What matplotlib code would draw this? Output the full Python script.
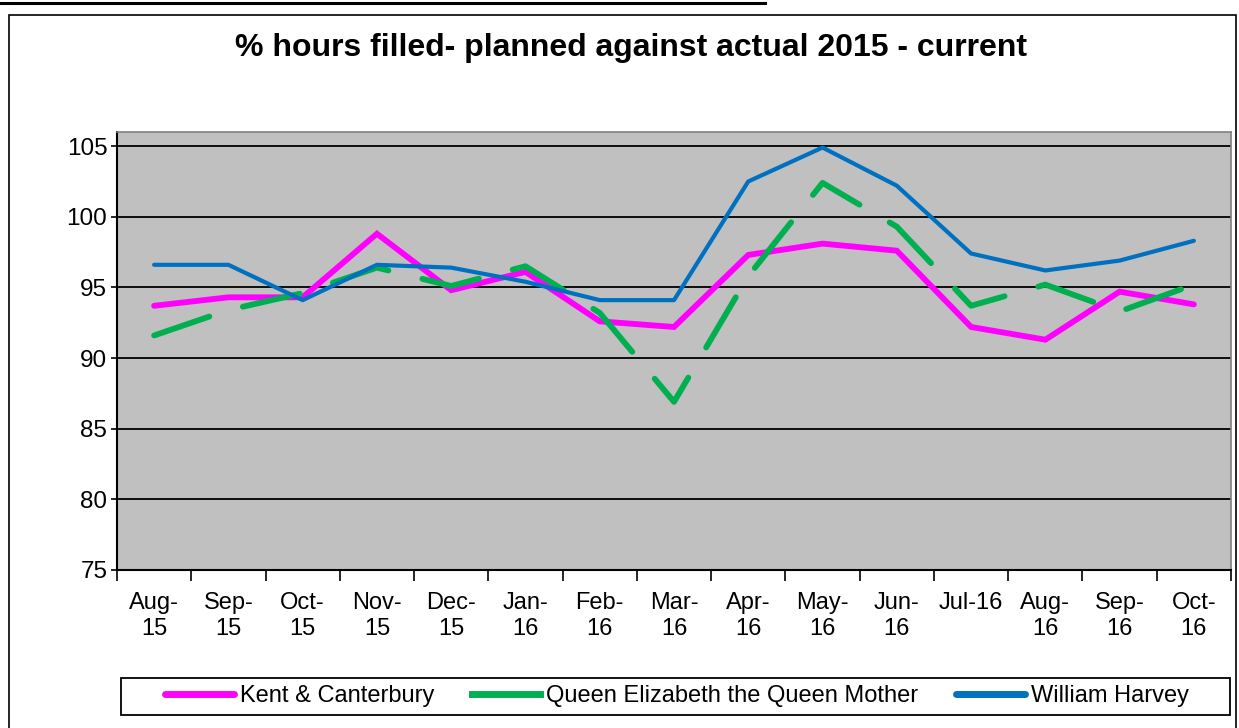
import matplotlib
matplotlib.use("Agg")
import matplotlib.pyplot as plt
from matplotlib.patches import Rectangle
from matplotlib.lines import Line2D

months = ["Aug-\n15", "Sep-\n15", "Oct-\n15", "Nov-\n15", "Dec-\n15", "Jan-\n16", "Feb-\n16",
          "Mar-\n16", "Apr-\n16", "May-\n16", "Jun-\n16", "Jul-16\n", "Aug-\n16", "Sep-\n16", "Oct-\n16"]
kent = [93.7, 94.3, 94.3, 98.8, 94.8, 96.1, 92.6, 92.2, 97.3, 98.1, 97.6, 92.2, 91.3, 94.7, 93.8]
qeqm = [91.6, 93.4, 94.6, 96.4, 95.1, 96.5, 93.2, 86.9, 95.8, 102.4, 99.3, 93.7, 95.2, 93.3, 95.2]
harvey = [96.6, 96.6, 94.1, 96.6, 96.4, 95.4, 94.1, 94.1, 102.5, 104.9, 102.2, 97.4, 96.2, 96.9, 98.3]
yticks = [75, 80, 85, 90, 95, 100, 105]

W, H = 1239, 728
plt.rcParams['font.family'] = ["Liberation Sans", "DejaVu Sans"]

fig = plt.figure(figsize=(W / 100, H / 100), dpi=100)
fig.patch.set_facecolor("white")

# cropped caption line at the very top + chart frame
fig.add_artist(Line2D([0, 765 / W], [1 - 3 / H, 1 - 3 / H], color="black", lw=2.2))
fig.add_artist(Rectangle((9 / W, -0.05), (1236 - 9) / W, 1 - 15 / H + 0.05,
                         fill=False, edgecolor="black", lw=1.2))

fig.text(631 / W, 1 - 48 / H, "% hours filled- planned against actual 2015 - current",
         ha="center", va="center", fontsize=23, fontweight="bold")

ax = fig.add_axes([117 / W, 1 - 570 / H, (1231 - 117) / W, (570 - 132) / H])
ax.set_facecolor("#C0C0C0")
x = list(range(len(months)))

ax.plot(x, kent, color="#FF00FF", lw=4.2, solid_capstyle="round", solid_joinstyle="miter",
        label="Kent & Canterbury", zorder=3)
ax.plot(x, qeqm, color="#00B050", lw=4.2, linestyle=(0, (10, 6)), dash_capstyle="round",
        label="Queen Elizabeth the Queen Mother", zorder=4)
ax.plot(x, harvey, color="#0070C0", lw=3.0, solid_capstyle="round",
        label="William Harvey", zorder=5)

ax.set_xlim(-0.5, len(months) - 0.5)
ax.set_ylim(75, 106)
ax.set_yticks(yticks)
ax.set_yticklabels([str(v) for v in yticks], fontsize=17.5)
ax.yaxis.grid(True, color="black", lw=1.3)
ax.set_axisbelow(True)

ax.set_xticks(x)
ax.set_xticklabels(months, fontsize=17, linespacing=1.2)
ax.set_xticks([i - 0.5 for i in range(len(months) + 1)], minor=True)
ax.tick_params(axis="x", which="major", length=0, pad=16)
ax.tick_params(axis="x", which="minor", length=8, width=1.2, direction="out")
ax.tick_params(axis="y", length=4, width=1.2, pad=3)

for s in ["left", "bottom"]:
    ax.spines[s].set_color("black")
    ax.spines[s].set_linewidth(1.5)
for s in ["top", "right"]:
    ax.spines[s].set_color("#808080")
    ax.spines[s].set_linewidth(1.2)

# legend box drawn separately, entries placed inside it
fig.add_artist(Rectangle((121 / W, 1 - 715 / H), (1230 - 121) / W, 37 / H,
                         fill=False, edgecolor="black", lw=1.3))
leg = ax.legend(loc="center", ncol=3, bbox_to_anchor=(677 / W, 1 - 696 / H),
                bbox_transform=fig.transFigure, frameon=False,
                handlelength=2.9, handletextpad=0.25, columnspacing=1.6,
                prop={"size": 17}, borderaxespad=0, borderpad=0)
for h in leg.get_lines():
    h.set_linestyle("-")
    h.set_linewidth(5)

fig.savefig("out.png", dpi=100, facecolor="white")
